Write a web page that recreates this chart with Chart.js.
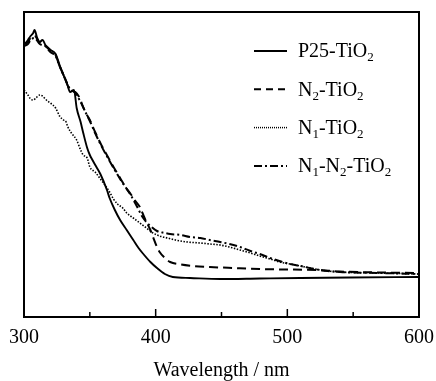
<!DOCTYPE html>
<html>
<head>
<meta charset="utf-8">
<script src="https://cdn.jsdelivr.net/npm/chart.js@4/dist/chart.umd.min.js"></script>
<style>
  html, body { margin: 0; padding: 0; background: #fff; }
  #wrap { width: 436px; height: 381px; }
</style>
</head>
<body>
<div id="wrap"><canvas id="absChart" width="436" height="381"></canvas></div>
<script>
// DATA (y is arbitrary absorbance units)
const xTicks = [300, 400, 500, 600];

const p25Wl  = [300,303,305,307,308,310,312,314,317,320,324,327,330,333,335,338,340,343,345,348,350,352,355,358,363,365,369,373,378,383,387,390,396,401,407,413,426,449,479,510,548,600];
const p25Abs = [2.72,2.77,2.81,2.84,2.87,2.79,2.75,2.77,2.70,2.67,2.63,2.52,2.42,2.32,2.25,2.27,2.09,1.95,1.84,1.69,1.62,1.57,1.50,1.43,1.27,1.19,1.07,0.97,0.87,0.77,0.69,0.64,0.55,0.49,0.43,0.40,0.39,0.38,0.385,0.39,0.395,0.40];

const n2Wl  = [300,303,305,308,312,316,320,324,327,331,335,339,343,344,347,350,354,358,360,365,368,373,377,381,384,388,390,393,396,398,401,403,407,411,419,428,441,459,479,497,523,540,570,600];
const n2Abs = [2.73,2.75,2.79,2.81,2.74,2.72,2.67,2.62,2.51,2.39,2.27,2.25,2.17,2.13,2.04,1.97,1.85,1.74,1.69,1.57,1.50,1.39,1.30,1.23,1.17,1.10,1.04,0.95,0.87,0.80,0.70,0.65,0.59,0.55,0.525,0.51,0.50,0.49,0.48,0.475,0.47,0.455,0.445,0.44];

const n1Wl  = [300,303,305,307,309,312,314,317,320,324,327,330,332,333,336,340,343,345,348,350,354,358,362,365,368,371,375,378,383,388,393,398,403,409,415,424,434,441,449,456,464,472,479,487,494,502,510,517,525,540,570,600];
const n1Abs = [2.27,2.22,2.18,2.17,2.19,2.22,2.21,2.17,2.14,2.09,2.01,1.97,1.95,1.91,1.84,1.77,1.67,1.62,1.59,1.50,1.45,1.38,1.31,1.25,1.18,1.13,1.09,1.04,0.99,0.94,0.89,0.84,0.81,0.79,0.77,0.75,0.74,0.73,0.72,0.70,0.67,0.64,0.61,0.58,0.55,0.53,0.51,0.49,0.47,0.45,0.44,0.43];

const n1n2Wl  = [300,303,305,308,312,316,320,324,327,331,335,339,343,347,350,354,358,365,373,381,386,390,396,401,407,411,419,426,434,441,449,456,464,472,479,487,494,502,510,517,525,540,570,600];
const n1n2Abs = [2.71,2.73,2.77,2.79,2.73,2.71,2.65,2.61,2.51,2.39,2.28,2.24,2.15,2.04,1.96,1.84,1.73,1.56,1.38,1.22,1.10,1.00,0.91,0.86,0.84,0.83,0.82,0.80,0.79,0.77,0.75,0.73,0.70,0.66,0.63,0.59,0.56,0.53,0.51,0.49,0.47,0.45,0.44,0.43];

const FONT = '"Liberation Serif", "Times New Roman", serif';

function pts(xs, ys) {
    return xs.map((x, i) => ({ x: x, y: ys[i] }));
}

// legend entries: text parts, [text, isSubscript]
const legendItems = [
    { parts: [["P25-TiO", false], ["2", true]], dash: [], width: 2 },
    { parts: [["N", false], ["2", true], ["-TiO", false], ["2", true]], dash: [7, 5], width: 2 },
    { parts: [["N", false], ["1", true], ["-TiO", false], ["2", true]], dash: [1, 1], width: 1.5 },
    { parts: [["N", false], ["1", true], ["-N", false], ["2", true], ["-TiO", false], ["2", true]], dash: [8, 3, 2, 3], width: 2 }
];

// frame, inward ticks and the legend with subscripts
const framePlugin = {
    id: "frame",
    afterDraw(chart) {
        const ctx = chart.ctx;
        const a = chart.chartArea;
        const xs = chart.scales.x;
        ctx.save();
        ctx.strokeStyle = "#000";
        ctx.lineWidth = 2;
        ctx.strokeRect(a.left, a.top, a.right - a.left, a.bottom - a.top);

        ctx.lineWidth = 1.5;
        xs.ticks.forEach(t => {
            const px = xs.getPixelForValue(t.value);
            const len = t.value % 100 === 0 ? 8 : 5;
            ctx.beginPath();
            ctx.moveTo(px, a.bottom);
            ctx.lineTo(px, a.bottom - len);
            ctx.stroke();
        });

        // legend
        legendItems.forEach((item, i) => {
            const y = 51 + i * 38.3;
            ctx.setLineDash(item.dash);
            ctx.lineWidth = item.width;
            ctx.beginPath();
            ctx.moveTo(254, y);
            ctx.lineTo(287, y);
            ctx.stroke();
            ctx.setLineDash([]);

            let x = 298;
            ctx.fillStyle = "#000";
            ctx.textBaseline = "middle";
            item.parts.forEach(p => {
                if (p[1]) {
                    ctx.font = "13px " + FONT;
                    ctx.fillText(p[0], x, y + 7);
                } else {
                    ctx.font = "20px " + FONT;
                    ctx.fillText(p[0], x, y + 1);
                }
                x += ctx.measureText(p[0]).width;
            });
        });
        ctx.restore();
    }
};

function lineSet(label, data, dash, width) {
    return {
        label: label,
        data: data,
        borderColor: "#000",
        borderWidth: width,
        borderDash: dash,
        pointRadius: 0,
        fill: false,
        cubicInterpolationMode: "monotone"
    };
}

function loadChart() {
    let ctx = document.getElementById("absChart");

    new Chart(ctx, {
        type: "line",
        data: {
            datasets: [
                lineSet("P25-TiO2", pts(p25Wl, p25Abs), [], 1.9),
                lineSet("N2-TiO2", pts(n2Wl, n2Abs), [9, 5], 2),
                lineSet("N1-TiO2", pts(n1Wl, n1Abs), [1.5, 1.5], 1.6),
                lineSet("N1-N2-TiO2", pts(n1n2Wl, n1n2Abs), [8, 3, 2, 3], 2)
            ]
        },
        options: {
            responsive: false,
            animation: false,
            layout: { padding: { left: 24, right: 17, top: 12, bottom: 0 } },
            plugins: {
                legend: { display: false },
                tooltip: { enabled: false }
            },
            scales: {
                x: {
                    type: "linear",
                    min: 300,
                    max: 600,
                    afterFit: s => {
                        s.height = 64;
                        s.paddingLeft = 0;
                        s.paddingRight = 0;
                    },
                    afterBuildTicks: s => {
                        s.ticks = [300, 350, 400, 450, 500, 550, 600].map(v => ({ value: v }));
                    },
                    grid: { display: false, drawTicks: false },
                    border: { display: false },
                    ticks: {
                        autoSkip: false,
                        maxRotation: 0,
                        padding: 9,
                        color: "#000",
                        font: { family: FONT, size: 20 },
                        callback: v => (xTicks.includes(v) ? String(v) : "")
                    },
                    title: {
                        display: true,
                        text: "Wavelength / nm",
                        color: "#000",
                        font: { family: FONT, size: 20 },
                        padding: { top: 0, bottom: -2 }
                    }
                },
                y: {
                    display: false,
                    min: 0,
                    max: 3.05
                }
            }
        },
        plugins: [framePlugin]
    });
}

window.onload = loadChart;
</script>
</body>
</html>
